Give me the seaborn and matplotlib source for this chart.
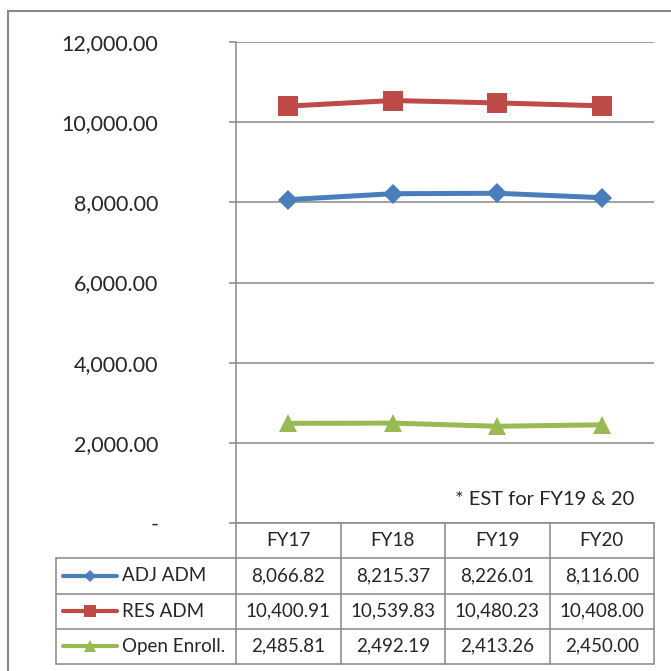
import matplotlib
matplotlib.use("Agg")
import matplotlib.pyplot as plt
import seaborn as sns
import pandas as pd
from matplotlib.patches import Rectangle
from matplotlib.ticker import FuncFormatter

years = ["FY17", "FY18", "FY19", "FY20"]
adj_adm = [8066.82, 8215.37, 8226.01, 8116.00]
res_adm = [10400.91, 10539.83, 10480.23, 10408.00]
open_enroll = [2485.81, 2492.19, 2413.26, 2450.00]
series_names = ["ADJ ADM", "RES ADM", "Open Enroll."]
yticks = [0, 2000, 4000, 6000, 8000, 10000, 12000]
note = "* EST for FY19 & 20"

colors = {"ADJ ADM": "#4A7EBB", "RES ADM": "#BE4B48", "Open Enroll.": "#98B954"}
markers = {"ADJ ADM": "D", "RES ADM": "s", "Open Enroll.": "^"}
msizes = {"ADJ ADM": 10, "RES ADM": 14, "Open Enroll.": 13}
key_ms = {"ADJ ADM": 6, "RES ADM": 8, "Open Enroll.": 8}

rows = []
for name, vals in zip(series_names, [adj_adm, res_adm, open_enroll]):
    for i, (yr, v) in enumerate(zip(years, vals)):
        rows.append({"series": name, "year": yr, "x": i, "value": v})
df = pd.DataFrame(rows)

sns.set_style("white")
plt.rcParams["font.family"] = ["Lato", "DejaVu Sans"]
grey = "#888888"

W = 671.0
fig = plt.figure(figsize=(6.71, 6.71), dpi=100)

def fbox(l, t, r, b):
    return [l / W, 1 - b / W, (r - l) / W, (b - t) / W]

# chart area
ax = fig.add_axes(fbox(236, 42, 654, 523))
for name in series_names:
    sub = df[df["series"] == name]
    sns.lineplot(data=sub, x="x", y="value", ax=ax, color=colors[name],
                 marker=markers[name], markersize=msizes[name],
                 markeredgewidth=0, linewidth=3.6, legend=False)
ax.set_xlim(-0.5, 3.5)
ax.set_ylim(0, 12000)
ax.set_yticks(yticks)
ax.yaxis.set_major_formatter(FuncFormatter(lambda v, p: "-" if v == 0 else f"{v:,.2f}"))
ax.set_xticks([])
ax.set_xlabel("")
ax.set_ylabel("")
ax.grid(axis="y", color=grey, linewidth=1.1)
ax.tick_params(axis="y", direction="out", length=5, width=1.1, color=grey,
               pad=51, labelsize=15.5, left=True)
for s in ["top", "right", "bottom"]:
    ax.spines[s].set_visible(False)
ax.spines["left"].set_color(grey)
ax.spines["left"].set_linewidth(1.1)
ax.text(0.524, 0.048, note, transform=ax.transAxes, fontsize=14.5,
        ha="left", va="center")

# data table below the chart, same x scale as the chart
tab = fig.add_axes(fbox(56, 523, 654, 664))
left_edge = -0.5 - 180 / 104.5
tab.set_xlim(left_edge, 3.5)
tab.set_ylim(3.5, -0.5)
tab.axis("off")
lw = 1.1
tab.plot([-0.5, 3.5], [-0.5, -0.5], color=grey, lw=lw, clip_on=False)
for r in [0.5, 1.5, 2.5, 3.5]:
    tab.plot([left_edge, 3.5], [r, r], color=grey, lw=lw, clip_on=False)
tab.plot([left_edge, left_edge], [0.5, 3.5], color=grey, lw=lw, clip_on=False)
for c in [-0.5, 0.5, 1.5, 2.5, 3.5]:
    tab.plot([c, c], [-0.5, 3.5], color=grey, lw=lw, clip_on=False)

for i, yr in enumerate(years):
    tab.text(i, 0, yr, ha="center", va="center", fontsize=13.5)
for r, name in enumerate(series_names, start=1):
    sub = df[df["series"] == name]
    for i, v in zip(sub["x"], sub["value"]):
        tab.text(i, r, f"{v:,.2f}", ha="center", va="center", fontsize=13.5)
    tab.plot([left_edge + 0.065, left_edge + 0.58], [r, r], color=colors[name],
             lw=3, solid_capstyle="round", clip_on=False)
    tab.plot([left_edge + 0.3225], [r], color=colors[name], marker=markers[name],
             markersize=key_ms[name], markeredgewidth=0, clip_on=False)
    tab.text(left_edge + 0.63, r, name, ha="left", va="center", fontsize=13.5)

# outer chart border
fig.add_artist(Rectangle((8 / W, -0.05), 1.2, 1.05 - 11 / W, transform=fig.transFigure,
                         fill=False, edgecolor=grey, linewidth=1.5))

fig.savefig("out.png", dpi=100)
